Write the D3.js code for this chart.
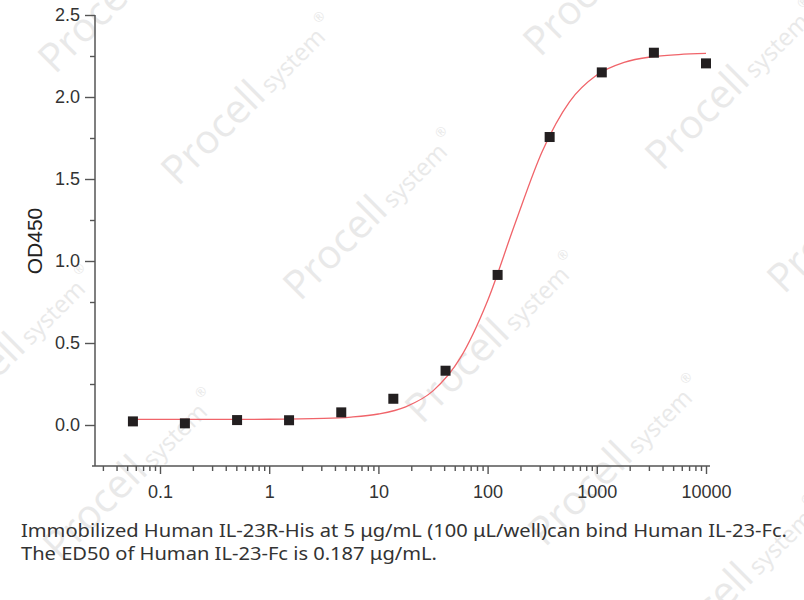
<!DOCTYPE html>
<html>
<head>
<meta charset="utf-8">
<script src="https://cdn.jsdelivr.net/npm/d3@7"></script>
<style>
  body { margin: 0; background: #fff; }
</style>
</head>
<body>
<div id="chart"></div>
<script>
// measured points (3-fold dilution, ng/mL) and OD450 readings
var conc = [0.0565, 0.169, 0.508, 1.52, 4.57, 13.7, 41.2, 123.5, 370, 1111, 3333, 10000];
var od = [0.022, 0.010, 0.030, 0.029, 0.077, 0.16, 0.331, 0.915, 1.756, 2.15, 2.27, 2.205];

// fitted curve (log10 conc, OD450)
var fitLog = [-1.25, -0.5, 0, 0.5, 0.75, 1.0, 1.25, 1.5, 1.75, 2.0, 2.25, 2.5, 2.75, 3.0, 3.25, 3.5, 3.75, 4.0];
var fitOd = [0.034, 0.034, 0.035, 0.040, 0.048, 0.067, 0.111, 0.208, 0.409, 0.758, 1.226, 1.668, 1.971, 2.134, 2.211, 2.245, 2.259, 2.266];

var xTicks = [0.1, 1, 10, 100, 1000, 10000];
var xTickLabels = ["0.1", "1", "10", "100", "1000", "10000"];
var yTicks = [0, 0.5, 1.0, 1.5, 2.0, 2.5];
var yMinor = [0.25, 0.75, 1.25, 1.75, 2.25];

var yTitle = "OD450";
var caption = ["Immobilized Human IL-23R-His at 5 \u03bcg/mL (100 \u03bcL/well)can bind Human IL-23-Fc.",
               "The ED50 of Human IL-23-Fc is 0.187 \u03bcg/mL."];

var wmAnchors = [[55, 75], [178, 187], [300, 302], [422, 425], [545, 548], [666, 669],
                 [540, 58], [662, 172], [784, 295],
                 [-62, 439], [60, 562], [418, -62]];

var svg_dx = 804, svg_dy = 600;

var x = d3.scaleLog().domain([0.1, 10000]).range([160, 706]);
var y = d3.scaleLinear().domain([0, 2.5]).range([425, 15]);
var x0 = 95, xEnd = 710, yBottom = 466;

var svg = d3.select("#chart")
            .append("svg")
            .attr("width", svg_dx)
            .attr("height", svg_dy)
            .style("font-family", "'Liberation Sans', Arial, sans-serif");

// watermark
var wm = svg.append("g").attr("fill", "#e9e9e9").style("font-family", "'Open Sans', sans-serif");
wmAnchors.forEach(function(a) {
  var t = wm.append("text")
            .attr("transform", "translate(" + a[0] + "," + a[1] + ") rotate(-45)");
  t.append("tspan").attr("font-size", 40).text("Procell");
  t.append("tspan").attr("font-size", 24).attr("dx", 5).text("system");
  t.append("tspan").attr("font-size", 13).attr("dx", 4).attr("dy", -16).text("\u00ae");
});

// minor x ticks
var xMinor = [];
for (var d = -2; d <= 3; d++) {
  for (var k = 2; k <= 9; k++) {
    var v = k * Math.pow(10, d);
    if (v >= 0.03 && v < 10000) xMinor.push(v);
  }
}

var axisColor = "#555";

// y axis
var gy = svg.append("g")
   .attr("transform", "translate(" + x0 + ",0)")
   .call(d3.axisLeft(y).tickValues(yTicks).tickSize(10).tickPadding(5).tickFormat(d3.format(".1f")));
gy.select(".domain").remove();
gy.selectAll(".tick line").attr("stroke", axisColor).attr("stroke-width", 1.4);
gy.selectAll(".tick text").attr("fill", "#333").style("font-size", "18px")
  .style("font-family", "'Liberation Sans', Arial, sans-serif");

var gyMinor = svg.append("g")
   .attr("transform", "translate(" + x0 + ",0)")
   .call(d3.axisLeft(y).tickValues(yMinor).tickSize(5).tickFormat(""));
gyMinor.select(".domain").remove();
gyMinor.selectAll(".tick line").attr("stroke", axisColor).attr("stroke-width", 1.4);

svg.append("line")
   .attr("x1", x0).attr("x2", x0)
   .attr("y1", y(2.5)).attr("y2", yBottom)
   .attr("stroke", axisColor).attr("stroke-width", 1.5);

// x axis
var gx = svg.append("g")
   .attr("transform", "translate(0," + yBottom + ")")
   .call(d3.axisBottom(x).tickValues(xTicks).tickSize(8).tickPadding(11)
           .tickFormat(function(d, i) { return xTickLabels[i]; }));
gx.select(".domain").remove();
gx.selectAll(".tick line").attr("stroke", axisColor).attr("stroke-width", 1.4);
gx.selectAll(".tick text").attr("fill", "#333").style("font-size", "18px")
  .style("font-family", "'Liberation Sans', Arial, sans-serif");

var gxMinor = svg.append("g")
   .attr("transform", "translate(0," + yBottom + ")")
   .call(d3.axisBottom(x).tickValues(xMinor).tickSize(5).tickFormat(""));
gxMinor.select(".domain").remove();
gxMinor.selectAll(".tick line").attr("stroke", axisColor).attr("stroke-width", 1.4);

svg.append("line")
   .attr("x1", x0 - 3).attr("x2", xEnd)
   .attr("y1", yBottom).attr("y2", yBottom)
   .attr("stroke", axisColor).attr("stroke-width", 1.5);

// Y axis label
svg.append("text")
   .attr("transform", "translate(42," + 241 + ") rotate(-90)")
   .attr("text-anchor", "middle")
   .attr("fill", "#222")
   .style("font-size", "21px")
   .text(yTitle);

// fitted curve
var fit = fitLog.map(function(l, i) { return [Math.pow(10, l), fitOd[i]]; });
svg.append("path")
   .datum(fit)
   .attr("fill", "none")
   .attr("stroke", "#f0646a")
   .attr("stroke-width", 1.3)
   .attr("d", d3.line()
      .x(function(d) { return x(d[0]); })
      .y(function(d) { return y(d[1]); })
      .curve(d3.curveMonotoneX));

// data points
var sq = 10;
svg.append("g")
   .selectAll("rect")
   .data(conc)
   .enter()
   .append("rect")
   .attr("x", function(d) { return x(d) - sq / 2; })
   .attr("y", function(d, i) { return y(od[i]) - sq / 2; })
   .attr("width", sq)
   .attr("height", sq)
   .attr("fill", "#231f20");

// caption
var capWidths = [766, 416];
svg.selectAll("text.caption")
   .data(caption)
   .enter()
   .append("text")
   .attr("class", "caption")
   .attr("x", 21)
   .attr("y", function(d, i) { return 537 + i * 23; })
   .attr("textLength", function(d, i) { return capWidths[i]; })
   .attr("lengthAdjust", "spacingAndGlyphs")
   .attr("fill", "#333")
   .style("font-family", "'Noto Sans', sans-serif")
   .style("font-size", "18px")
   .text(function(d) { return d; });
</script>
</body>
</html>
